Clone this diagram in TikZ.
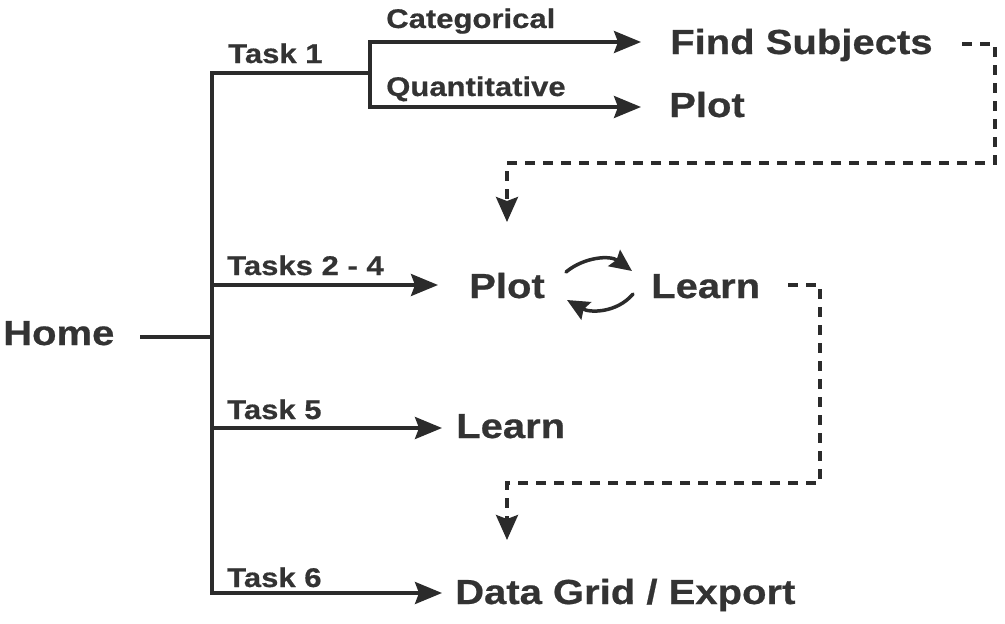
\documentclass[tikz,border=0pt]{standalone}
\usepackage{fontspec}
\setmainfont[FakeStretch=1.15,FakeBold=0.6]{Liberation Sans}
\usetikzlibrary{arrows.meta}
\definecolor{ink}{HTML}{2B2B2B}
\definecolor{txt}{HTML}{333333}
\begin{document}
\begin{tikzpicture}[x=1pt,y=-1pt,
  lbl/.style={anchor=base west,inner sep=0pt,text=txt,font=\fontsize{27}{28}\selectfont\bfseries},
  big/.style={anchor=base west,inner sep=0pt,text=txt,font=\fontsize{34.8}{36}\selectfont\bfseries},
  link/.style={draw=ink,line width=3.3pt},
  flow/.style={link,-{Stealth[length=27pt,width=22pt,inset=4pt]}},
  jump/.style={draw=ink,line width=3.3pt,dash pattern=on 10pt off 8pt,-{Stealth[length=25pt,width=22pt,inset=4pt]}},
  cyc/.style={draw=ink,line width=3.5pt,line cap=round,-{Stealth[length=22pt,width=20pt,inset=3pt]}}]
\useasboundingbox (0,0) rectangle (1005,624);

% labels and destinations
\node[big] (home) at (3,345) {Home};
\node[lbl] (t1) at (228,63) {Task 1};
\node[lbl] (cat) at (386,28) {Categorical};
\node[lbl] (quant) at (386,96) {Quantitative};
\node[big] (find) at (670,54) {Find Subjects};
\node[big] (plotA) at (669,117) {Plot};
\node[lbl] (t24) at (227,275) {Tasks 2 - 4};
\node[big] (plotB) at (469,298) {Plot};
\node[big] (learnB) at (651,298) {Learn};
\node[lbl] (t5) at (227,419) {Task 5};
\node[big] (learnC) at (456,438) {Learn};
\node[lbl] (t6) at (227,587) {Task 6};
\node[big] (grid) at (455,604) {Data Grid / Export};

% junction points of the tree
\coordinate (hstub) at (140,337);
\coordinate (trunk) at (212,337);
\coordinate (trunkTop) at (212,73);
\coordinate (trunkBot) at (212,593);
\coordinate (split) at (370,73);
\coordinate (catEnd) at (641,42);
\coordinate (quantEnd) at (641,107);
\coordinate (b24) at (212,285);
\coordinate (e24) at (438,285);
\coordinate (b5) at (212,428);
\coordinate (e5) at (442,428);
\coordinate (e6) at (442,593);

% tree
\draw[link] (hstub) -- (trunk);
\draw[link,line cap=rect] (trunkTop) -- (trunkBot);
\draw[link] (trunkTop) -- (split);
\draw[flow] (split) |- (catEnd);
\draw[flow] (split) |- (quantEnd);
\draw[flow] (b24) -- (e24);
\draw[flow] (b5) -- (e5);
\draw[flow] (trunkBot) -- (e6);

% plot / learn cycle
\draw[cyc] (566,272) .. controls (584,257) and (610,255) .. (632,271);
\draw[cyc] (633,294) .. controls (617,313) and (590,313) .. (567,300);

% dashed hand-offs
\coordinate (j1a) at (962,44);
\coordinate (j1b) at (507,163);
\coordinate (j1end) at (507,222);
\draw[jump] (j1a) -- (995,44) -- (995,163) -- (j1b) -- (j1end);
\coordinate (j2a) at (788,285);
\coordinate (j2b) at (507,483);
\coordinate (j2end) at (507,540);
\draw[jump] (j2a) -- (820,285) -- (820,483) -- (j2b) -- (j2end);
\end{tikzpicture}
\end{document}
